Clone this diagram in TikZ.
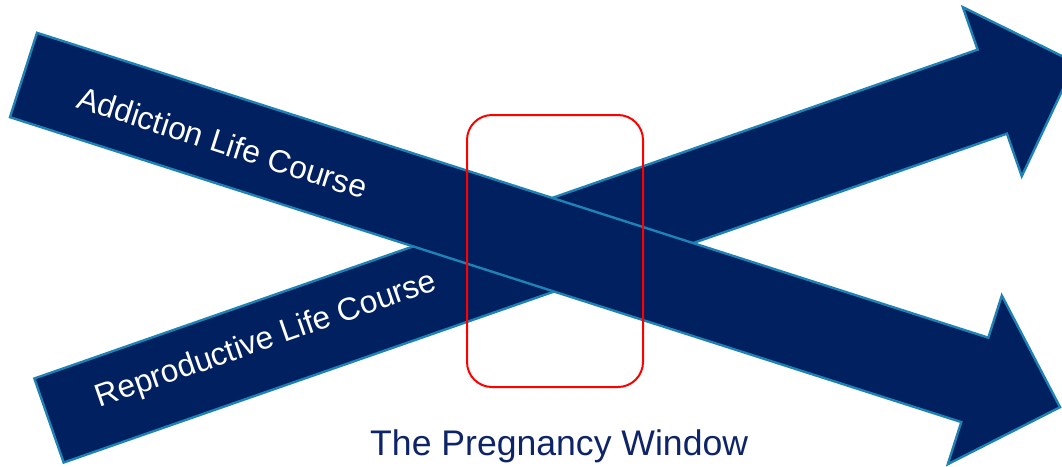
\documentclass[tikz,border=0pt]{standalone}
\usepackage{fontspec}
\setmainfont{Liberation Sans}
\definecolor{navy}{RGB}{0,32,96}
\definecolor{edgeblue}{RGB}{30,130,180}
\definecolor{titlenavy}{RGB}{14,36,104}
\begin{document}
\begin{tikzpicture}[x=1pt,y=-1pt,
  lifearrow/.style={fill=navy,draw=edgeblue,line width=2.4pt,line join=miter},
  lifelabel/.style={text=white,font=\fontsize{31.8}{32}\selectfont,inner sep=0pt,anchor=base west},
  windowbox/.style={draw=red,line width=2pt,rounded corners=25pt,minimum width=176pt,minimum height=272pt,inner sep=0pt}]
\useasboundingbox (0,0) rectangle (1062,466);
\clip (0,0) rectangle (1062,466);
% Reproductive life course arrow (beneath)
\begin{scope}[shift={(49,420.5)},rotate=19.22]
  \path[lifearrow] (0,-44.5) -- (999,-44.5) -- (999,-89.5) -- (1087,0) -- (999,89.5) -- (999,44.5) -- (0,44.5) -- cycle;
  \node[lifelabel,rotate=19.22] (repro) at (52,4.3) {Reproductive Life Course};
\end{scope}
% Addiction life course arrow (on top)
\begin{scope}[shift={(23.5,75)},rotate=-17.77]
  \path[lifearrow] (0,-44.3) -- (999,-44.3) -- (999,-88.5) -- (1088.5,0) -- (999,88.5) -- (999,44.3) -- (0,44.3) -- cycle;
  \node[lifelabel,rotate=-17.77] (addict) at (58.8,14.8) {Addiction Life Course};
\end{scope}
% Pregnancy window
\node[windowbox] (window) at (555,251) {};
\node[font=\fontsize{35.6}{36}\selectfont,text=titlenavy,anchor=base west,inner sep=0pt] (title) at (370,455) {The Pregnancy Window};
\end{tikzpicture}
\end{document}
